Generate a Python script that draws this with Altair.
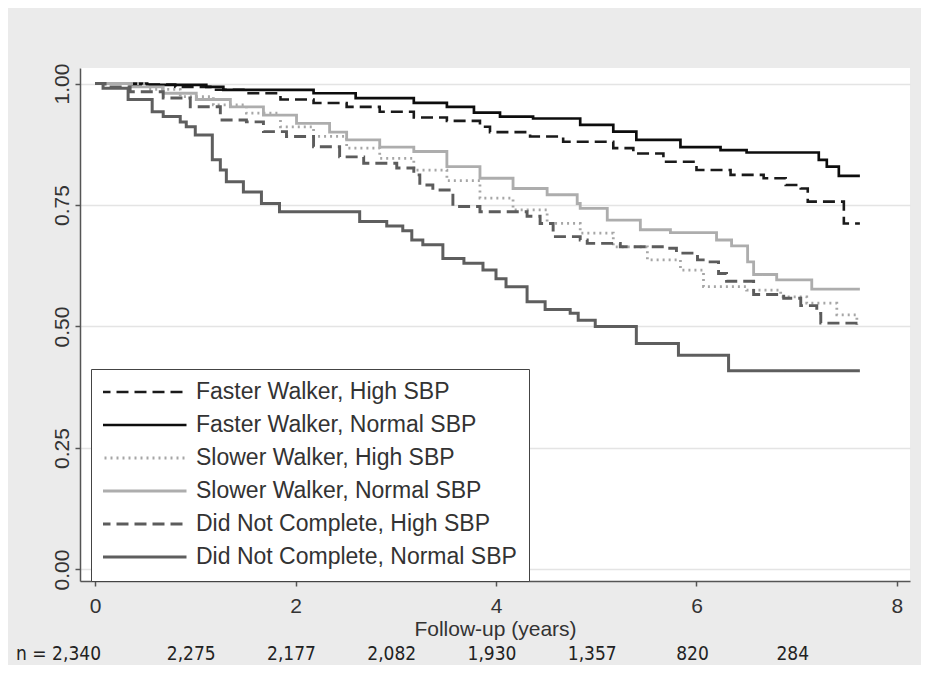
import altair as alt
import pandas as pd

series_names = [
    "Faster Walker, High SBP",
    "Faster Walker, Normal SBP",
    "Slower Walker, High SBP",
    "Slower Walker, Normal SBP",
    "Did Not Complete, High SBP",
    "Did Not Complete, Normal SBP",
]

fw_high_t = [0, 0.35, 0.8, 1.18, 1.51, 1.85, 2.18, 2.51, 2.84, 3.18, 3.51, 3.84, 3.94, 4.34,
             4.67, 5.17, 5.37, 5.67, 6.0, 6.34, 6.67, 6.89, 7.04, 7.11, 7.47, 7.63]
fw_high_s = [1.0, 0.998, 0.993, 0.987, 0.98, 0.967, 0.96, 0.952, 0.942, 0.93, 0.923, 0.911, 0.90,
             0.891, 0.88, 0.867, 0.856, 0.839, 0.822, 0.812, 0.805, 0.791, 0.784, 0.757, 0.712, 0.712]

fw_norm_t = [0, 0.52, 1.11, 1.28, 2.18, 2.6, 3.18, 3.51, 3.78, 4.04, 4.37, 4.84, 5.17, 5.40,
             5.84, 6.24, 6.50, 7.22, 7.30, 7.42, 7.63]
fw_norm_s = [1.0, 0.997, 0.993, 0.987, 0.98, 0.97, 0.96, 0.952, 0.94, 0.932, 0.928, 0.915, 0.901,
             0.884, 0.869, 0.863, 0.858, 0.843, 0.829, 0.81, 0.81]

sw_high_t = [0, 0.52, 0.85, 1.18, 1.51, 1.85, 2.18, 2.51, 2.84, 3.18, 3.51, 3.84, 4.17, 4.51,
             4.84, 5.17, 5.51, 5.84, 6.07, 6.50, 6.84, 7.10, 7.40, 7.60]
sw_high_s = [1.0, 0.988, 0.973, 0.956, 0.939, 0.911, 0.891, 0.867, 0.846, 0.822, 0.80, 0.764,
             0.74, 0.712, 0.692, 0.664, 0.637, 0.616, 0.582, 0.575, 0.561, 0.548, 0.524, 0.503]

sw_norm_t = [0, 0.35, 0.68, 1.01, 1.35, 1.68, 2.01, 2.34, 2.51, 2.84, 3.18, 3.51, 3.84, 4.17,
             4.51, 4.81, 4.84, 5.11, 5.44, 5.74, 6.20, 6.35, 6.51, 6.57, 6.80, 7.15, 7.63]
sw_norm_s = [1.0, 0.993, 0.98, 0.967, 0.952, 0.935, 0.918, 0.90, 0.884, 0.869, 0.86, 0.829,
             0.805, 0.784, 0.771, 0.753, 0.743, 0.719, 0.699, 0.693, 0.678, 0.666, 0.633, 0.607,
             0.596, 0.577, 0.577]

dnc_high_t = [0, 0.1, 0.35, 0.68, 0.95, 1.25, 1.51, 1.68, 1.91, 2.18, 2.44, 2.68, 3.01, 3.18,
              3.24, 3.37, 3.57, 3.84, 4.31, 4.44, 4.57, 4.84, 4.91, 5.24, 5.70, 5.80, 6.01,
              6.12, 6.22, 6.30, 6.57, 6.87, 7.04, 7.20, 7.24, 7.63]
dnc_high_s = [1.0, 0.993, 0.983, 0.97, 0.952, 0.925, 0.921, 0.901, 0.891, 0.870, 0.849, 0.836,
              0.826, 0.812, 0.791, 0.781, 0.747, 0.736, 0.727, 0.712, 0.685, 0.678, 0.671, 0.664,
              0.661, 0.651, 0.637, 0.633, 0.609, 0.593, 0.566, 0.558, 0.543, 0.527, 0.507, 0.504]

dnc_norm_t = [0, 0.08, 0.33, 0.57, 0.68, 0.85, 0.91, 1.0, 1.17, 1.25, 1.31, 1.48, 1.66, 1.84,
              2.64, 2.91, 3.07, 3.16, 3.27, 3.47, 3.68, 3.87, 4.0, 4.10, 4.31, 4.49, 4.74,
              4.82, 4.99, 5.40, 5.82, 6.32, 7.63]
dnc_norm_s = [1.0, 0.99, 0.967, 0.942, 0.932, 0.921, 0.911, 0.894, 0.843, 0.822, 0.798, 0.777,
              0.753, 0.736, 0.716, 0.707, 0.697, 0.678, 0.668, 0.640, 0.630, 0.616, 0.598, 0.582,
              0.551, 0.535, 0.527, 0.513, 0.50, 0.465, 0.441, 0.409, 0.409]

n_years = [0, 1, 2, 3, 4, 5, 6, 7]
n_labels = ["n = 2,340", "2,275", "2,177", "2,082", "1,930", "1,357", "820", "284"]

x_ticks = [0, 2, 4, 6, 8]
y_ticks = [0, 0.25, 0.5, 0.75, 1.0]

line_colors = ["#1a1a1a", "#0d0d0d", "#a6a6a6", "#adadad", "#5c5c5c", "#5e5e5e"]
line_dashes = [[12, 6], [1, 0], [2, 4], [1, 0], [12, 6], [1, 0]]
line_widths = [2.6, 3.0, 1.8, 2.2, 2.6, 2.8]

rows = []
for name, ts, ss in zip(
    series_names,
    [fw_high_t, fw_norm_t, sw_high_t, sw_norm_t, dnc_high_t, dnc_norm_t],
    [fw_high_s, fw_norm_s, sw_high_s, sw_norm_s, dnc_high_s, dnc_norm_s],
):
    for t, s in zip(ts, ss):
        rows.append({"series": name, "t": t, "s": s})
df = pd.DataFrame(rows)
n_df = pd.DataFrame({"t": n_years, "label": n_labels})

x_scale = alt.Scale(domain=[-0.15, 8.13], nice=False, zero=False)
y_scale = alt.Scale(domain=[-0.0237, 1.0319], nice=False, zero=False)

FONT = "Liberation Sans, Arial, sans-serif"
NARROW = "Liberation Sans Narrow, Arial Narrow, DejaVu Sans Condensed, sans-serif"

x_axis = alt.Axis(values=x_ticks, format="d", title="Follow-up (years)", grid=False)

leg = alt.Legend(
    title=None,
    orient="none",
    legendX=11,
    legendY=301,
    symbolType="stroke",
    symbolSize=7744,
    clipHeight=22,
    rowPadding=10,
    labelFontSize=23,
    labelFont=FONT,
    labelColor="#333333",
    labelOffset=8,
    labelLimit=600,
    padding=12,
    symbolOffset=-6,
    strokeColor="#444444",
    fillColor="white",
)

lines = alt.Chart(df).mark_line(interpolate="step-after").encode(
    x=alt.X("t:Q", scale=x_scale, axis=x_axis),
    y=alt.Y("s:Q", scale=y_scale,
            axis=alt.Axis(values=y_ticks, format=".2f", title=None, grid=True,
                          labelAngle=270, labelAlign="center", labelBaseline="alphabetic",
                          labelPadding=7)),
    color=alt.Color("series:N", scale=alt.Scale(domain=series_names, range=line_colors), legend=leg),
    strokeDash=alt.StrokeDash("series:N", scale=alt.Scale(domain=series_names, range=line_dashes), legend=leg),
    strokeWidth=alt.StrokeWidth("series:N", scale=alt.Scale(domain=series_names, range=line_widths), legend=leg),
)

n_first = alt.Chart(n_df).transform_filter("datum.t == 0").mark_text(
    align="right", baseline="bottom", font=NARROW, fontSize=19, color="#222222", dx=6
).encode(
    x=alt.X("t:Q", scale=x_scale, axis=x_axis),
    y=alt.value(596),
    text="label:N",
)

n_rest = alt.Chart(n_df).transform_filter("datum.t > 0").mark_text(
    align="center", baseline="bottom", font=NARROW, fontSize=19, color="#222222", dx=-4
).encode(
    x=alt.X("t:Q", scale=x_scale, axis=x_axis),
    y=alt.value(596),
    text="label:N",
)

chart = alt.layer(lines, n_first, n_rest).properties(
    width=830,
    height=513,
    autosize=alt.AutoSizeParams(type="none"),
    padding={"left": 72, "top": 60, "right": 11, "bottom": 84},
    background="#ebebeb",
).configure_view(
    fill="white", stroke=None
).configure_axis(
    domainColor="#555555",
    domainWidth=1.5,
    tickColor="#555555",
    tickWidth=1.5,
    tickSize=5,
    labelFont=FONT,
    labelFontSize=21,
    labelColor="#333333",
    labelPadding=9,
    titleFont=FONT,
    titleFontSize=21,
    titleFontWeight="normal",
    titleColor="#333333",
    titlePadding=2,
    gridColor="#e4e4e4",
    gridWidth=1.6,
)

chart.save("out.html", embed_options={"renderer": "svg", "actions": False})
